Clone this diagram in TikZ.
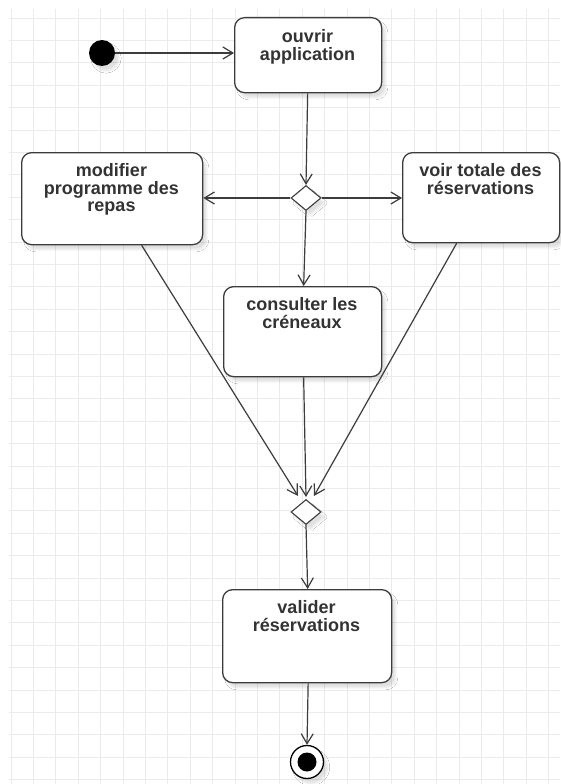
\documentclass[tikz,border=0pt]{standalone}
\usepackage{fontspec}
\setmainfont{Liberation Sans}
\usetikzlibrary{arrows.meta,shapes.geometric,shadows.blur}

\definecolor{gridline}{HTML}{EBEBEB}
\definecolor{edge}{HTML}{3C3C3C}
\definecolor{ink}{HTML}{333333}

\newcommand{\tlines}[1]{\begin{tabular}[t]{@{}c@{}}#1\end{tabular}}

\tikzset{
  gridrule/.style={draw=gridline, line width=0.9pt},
  actbox/.style={draw=edge, line width=1.3pt, fill=white, rounded corners=10pt,
    anchor=north west, inner sep=0pt,
    blur shadow={shadow xshift=4pt, shadow yshift=-5pt, shadow opacity=12, shadow blur steps=6}},
  acttext/.style={anchor=base, inner sep=0pt, text=ink,
    font=\fontsize{18}{17.5}\selectfont\bfseries},
  choice/.style={diamond, draw=edge, line width=1.1pt, fill=white, inner sep=0pt,
    minimum width=30pt, minimum height=25pt,
    blur shadow={shadow xshift=4pt, shadow yshift=-5pt, shadow opacity=12, shadow blur steps=6}},
  flow/.style={draw=edge, line width=1.2pt, -{Straight Barb[length=10pt, width=12pt, line width=1.2pt]}},
}

\begin{document}
\begin{tikzpicture}[x=1pt, y=-1pt]
  \useasboundingbox (0,0) rectangle (560,784);
  \fill[white] (0,0) rectangle (560,784);

  % background grid
  \foreach \i in {0,...,24}
    \draw[gridrule] ({11+22.4*\i},9) -- ({11+22.4*\i},784);
  \foreach \j in {0,...,34}
    \draw[gridrule] (9,{18+22.4*\j}) -- (560,{18+22.4*\j});

  % initial node
  \node[circle, fill=black, minimum size=26pt, inner sep=0pt,
        blur shadow={shadow xshift=4pt, shadow yshift=-5pt, shadow opacity=12, shadow blur steps=6}]
        (start) at (102,53) {};

  % activities
  \node[actbox, minimum width=147pt, minimum height=75pt] (open) at (234,17) {};
  \node[acttext] (openT) at (307.5,42.5) {\tlines{ouvrir\\application}};

  \node[actbox, minimum width=181pt, minimum height=92pt] (menu) at (21,152) {};
  \node[acttext] (menuT) at (111.5,176) {\tlines{modifier\\programme des\\repas}};

  \node[actbox, minimum width=157pt, minimum height=90pt] (total) at (402,152) {};
  \node[acttext] (totalT) at (480.5,176) {\tlines{voir totale des\\réservations}};

  \node[actbox, minimum width=158pt, minimum height=90pt] (slots) at (223,286) {};
  \node[acttext] (slotsT) at (302,310) {\tlines{consulter les\\créneaux}};

  \node[actbox, minimum width=169pt, minimum height=93pt] (valid) at (222,589) {};
  \node[acttext] (validT) at (306.5,613) {\tlines{valider\\réservations}};

  % decision and merge
  \node[choice] (fork) at (306,198) {};
  \node[choice] (merge) at (306,512) {};

  % final node
  \node[circle, draw=black, line width=1.3pt, fill=white, minimum size=33pt, inner sep=0pt,
        blur shadow={shadow xshift=4pt, shadow yshift=-5pt, shadow opacity=12, shadow blur steps=6}]
        (final) at (307,762) {};
  \node[circle, fill=black, minimum size=19pt, inner sep=0pt] (finalDot) at (final.center) {};

  % control flow
  \draw[flow] (start.east) -- (open.west |- start.east);
  \draw[flow] ([xshift=-0.5pt]open.south) -- (fork.north);
  \draw[flow] (fork.west) -- (menu.east |- fork.west);
  \draw[flow] (fork.east) -- (total.west |- fork.east);
  \draw[flow] (fork.south) -- ([xshift=1pt]slots.north);
  \draw[flow] ([xshift=29.5pt]menu.south) -- ([xshift=-8pt,yshift=3pt]merge.north);
  \draw[flow] ([xshift=1pt]slots.south) -- ([yshift=2pt]merge.north);
  \draw[flow] ([xshift=-24.5pt]total.south) -- ([xshift=8pt,yshift=3pt]merge.north);
  \draw[flow] (merge.south) -- ([xshift=0.5pt]valid.north);
  \draw[flow] ([xshift=1pt]valid.south) -- (final.north);
\end{tikzpicture}
\end{document}
